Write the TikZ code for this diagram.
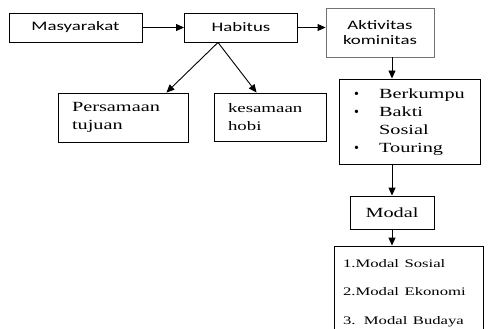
\documentclass[tikz,border=0pt]{standalone}
\usepackage{fontspec}
\usepackage{tikz}
\usetikzlibrary{arrows.meta, positioning, calc}
\newfontfamily\sanskata{Carlito}
\newfontfamily\serifkata{Liberation Serif}
\newcommand{\lebar}[1]{\scalebox{1.45}[1]{#1}}
\tikzstyle{kotak} = [rectangle, draw=black, line width=0.9pt, inner sep=0pt, text centered]
\tikzstyle{sanskotak} = [kotak, font=\sanskata\fontsize{13}{15}\selectfont]
\tikzstyle{serifkotak} = [kotak, font=\serifkata\fontsize{14}{18}\selectfont]
\tikzstyle{arrow} = [line width=0.9pt, -{Triangle[length=8pt,width=7pt]}]
\begin{document}
\begin{tikzpicture}[x=1pt, y=-1pt]
    \useasboundingbox (0,0) rectangle (490,329);
    \node (masy) [sanskotak, minimum width=133pt, minimum height=29pt] at (75.5,27.5) {\lebar{Masyarakat}};
    \node (habitus) [sanskotak, minimum width=113pt, minimum height=29pt] at (241,27.5) {\lebar{Habitus}};
    \node (aktiv) [sanskotak, draw=black!55, minimum width=108pt, minimum height=49pt, align=center] at (380,32.5) {\lebar{Aktivitas}\\\lebar{kominitas}};
    \node (persamaan) [serifkotak, minimum width=130pt, minimum height=49pt, text width=102pt, align=left] at (123,117.5) {\lebar{Persamaan}\\\lebar{tujuan}};
    \node (kesamaan) [serifkotak, font=\serifkata\fontsize{13}{18}\selectfont, minimum width=112pt, minimum height=48pt, text width=84pt, align=left] at (270,117) {\lebar{kesamaan}\\\lebar{hobi}};
    \node (kegiatan) [serifkotak, minimum width=141pt, minimum height=85pt] at (409.5,121.5) {%
        \begin{tabular}{@{}l@{\hspace{20pt}}l@{}}
        \textbullet & \lebar{Berkumpu}\\
        \textbullet & \lebar{Bakti}\\
                    & \lebar{Sosial}\\
        \textbullet & \lebar{Touring}
        \end{tabular}};
    \node (modal) [serifkotak, minimum width=84pt, minimum height=33pt] at (392,212.5) {\lebar{Modal}};
    \node (jenis) [serifkotak, font=\serifkata\fontsize{11.5}{28.5}\selectfont, minimum width=149pt, minimum height=94pt, text width=131pt, align=left] at (408.5,293) {\lebar{1.Modal Sosial}\\\lebar{2.Modal Ekonomi}\\\lebar{3. Modal Budaya}};

    \coordinate (puncak) at ($(habitus.south)+(-23,0)$);

    \draw [arrow] (masy) -- (habitus);
    \draw [arrow] (habitus.east) -- (habitus.east -| aktiv.west);
    \draw [arrow] (puncak) -- ([xshift=-22pt]persamaan.north east);
    \draw [arrow] (puncak) -- ([xshift=43pt]kesamaan.north west);
    \draw [arrow] (aktiv.south -| modal.north) -- (kegiatan.north -| modal.north);
    \draw [arrow] (kegiatan.south -| modal.north) -- (modal.north);
    \draw [arrow] (modal.south) -- (modal.south |- jenis.north);
\end{tikzpicture}
\end{document}
